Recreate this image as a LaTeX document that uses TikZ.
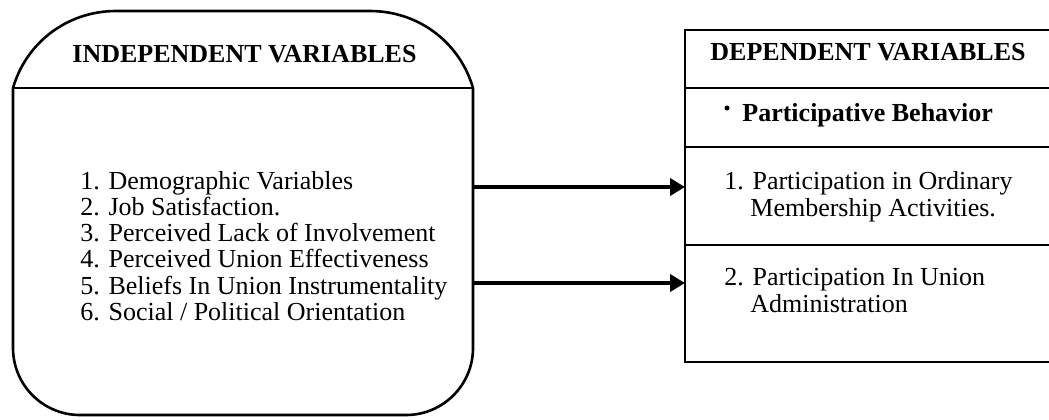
\documentclass[tikz,border=0pt]{standalone}
\usepackage{fontspec}
\setmainfont{Liberation Serif}
\usetikzlibrary{arrows.meta}
\begin{document}
\begin{tikzpicture}[x=0.5pt,y=-0.5pt,
  box/.style={line width=1.3pt},
  lbl/.style={anchor=base west, inner sep=0pt, font=\fontsize{13}{15}\selectfont},
  hdr/.style={anchor=base west, inner sep=0pt, font=\fontsize{13}{15}\selectfont\bfseries},
  arr/.style={line width=2.3pt, -{Triangle[length=7.5pt,width=8.5pt]}}]
\useasboundingbox (0,0) rectangle (1049,419);

% left rounded box
\draw[box] (13,88) .. controls (26.4,41.9) and (68,11) .. (116,11)
  -- (370,11) .. controls (418,11) and (459.6,41.9) .. (473,88)
  -- (473,348) .. controls (473,385) and (443,415) .. (406,415)
  -- (80,415) .. controls (43,415) and (13,385) .. (13,348) -- cycle;
\draw[box] (13,88) -- (473,88);

% right box (open on the right)
\draw[box] (1049,30) -- (685,30) -- (685,362) -- (1049,362);
\draw[box] (685,88) -- (1049,88);
\draw[box] (685,147) -- (1049,147);
\draw[box] (685,245) -- (1049,245);

% texts
\node[hdr] (ivh) at (72,62) {INDEPENDENT VARIABLES};
\node[hdr] (dvh) at (710,60) {DEPENDENT VARIABLES};
\node[circle, fill, inner sep=0pt, minimum size=2.5pt] (dot) at (727,108) {};
\node[hdr] (pb) at (742,121) {Participative Behavior};

\node[lbl] (i1) at (80,189) {1. Demographic Variables};
\node[lbl] (i2) at (80,215.3) {2. Job Satisfaction.};
\node[lbl] (i3) at (80,241.6) {3. Perceived Lack of Involvement};
\node[lbl] (i4) at (80,267.9) {4. Perceived Union Effectiveness};
\node[lbl] (i5) at (80,294.2) {5. Beliefs In Union Instrumentality};
\node[lbl] (i6) at (80,320.5) {6. Social / Political Orientation};

\node[lbl] (d1a) at (724,189) {1. Participation in Ordinary};
\node[lbl] (d1b) at (750,216) {Membership Activities.};
\node[lbl] (d2a) at (724,285) {2. Participation In Union};
\node[lbl] (d2b) at (750,312) {Administration};

% arrows
\coordinate (a1s) at (473,187);
\coordinate (a1e) at (685,187);
\coordinate (a2s) at (473,283);
\coordinate (a2e) at (685,283);
\draw[arr] (a1s) -- (a1e);
\draw[arr] (a2s) -- (a2e);
\end{tikzpicture}
\end{document}
